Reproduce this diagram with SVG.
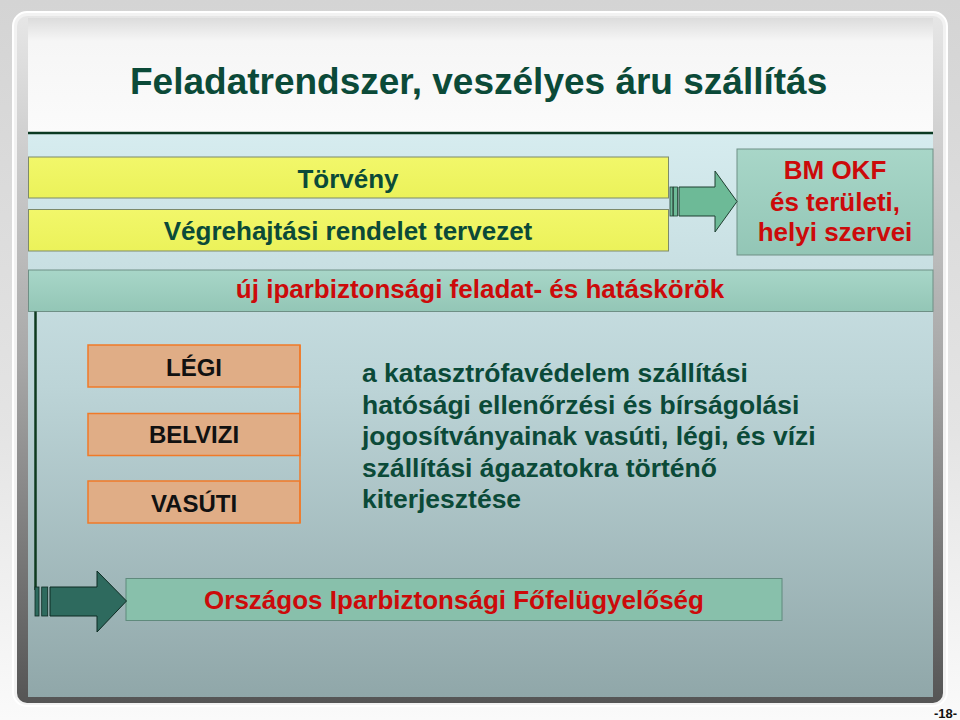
<svg xmlns="http://www.w3.org/2000/svg" width="960" height="720" viewBox="0 0 960 720">
<defs>
<linearGradient id="bgG" x1="0" y1="0" x2="0" y2="1"><stop offset="0" stop-color="#d4d4d4"/><stop offset="0.6" stop-color="#e4e4e4"/><stop offset="1" stop-color="#fafafa"/></linearGradient>
<linearGradient id="bevelG" x1="0" y1="0" x2="0" y2="1"><stop offset="0" stop-color="#e6e6e6"/><stop offset="0.5" stop-color="#a8a8a8"/><stop offset="1" stop-color="#555555"/></linearGradient>
<linearGradient id="titleG" x1="0" y1="0" x2="0" y2="1"><stop offset="0" stop-color="#dcdcdc"/><stop offset="0.2" stop-color="#f6f6f6"/><stop offset="1" stop-color="#fbfbfb"/></linearGradient>
<linearGradient id="panelG" x1="0" y1="0" x2="0" y2="1"><stop offset="0" stop-color="#d6ecef"/><stop offset="0.45" stop-color="#bcd4d7"/><stop offset="1" stop-color="#90a7a9"/></linearGradient>
<linearGradient id="barG" x1="0" y1="0" x2="0" y2="1"><stop offset="0" stop-color="#a8d6c8"/><stop offset="1" stop-color="#93c6b6"/></linearGradient>
<linearGradient id="yelG" x1="0" y1="0" x2="0" y2="1"><stop offset="0" stop-color="#f2f76a"/><stop offset="1" stop-color="#ebf25a"/></linearGradient>
</defs>
<style>
.t{font-family:"Liberation Sans",Arial,sans-serif;font-weight:bold}
.green{fill:#0b4a38}
.red{fill:#cc0a0a}
.blk{fill:#111111}
.yel{fill:url(#yelG);stroke:#7d8a6a;stroke-width:1}
.teal{fill:url(#barG);stroke:#6e8f85;stroke-width:1}
.org{fill:#e0ad86;stroke:#f07a28;stroke-width:1.5}
</style>
<rect x="0" y="0" width="960" height="720" fill="url(#bgG)"/>
<rect x="13" y="12" width="934" height="694" rx="14" fill="#f2f2f2" stroke="#ffffff" stroke-width="2"/>
<rect x="17" y="16" width="926" height="687" rx="10" fill="url(#bevelG)"/>
<rect x="28" y="18" width="905" height="116" fill="url(#titleG)"/>
<rect x="28" y="134" width="905" height="563" fill="url(#panelG)"/>
<line x1="28" y1="133" x2="933" y2="133" stroke="#0b3a22" stroke-width="2.5"/>

<g id="title"><text class="t green" x="130" y="94" font-size="37">Feladatrendszer, veszélyes áru szállítás</text></g>

<g id="torveny"><rect class="yel" x="28.5" y="157" width="640" height="41"/><text class="t green" x="348" y="188" font-size="26" text-anchor="middle">Törvény</text></g>
<g id="vegrehajtasi"><rect class="yel" x="28.5" y="209.5" width="640" height="41.5"/><text class="t green" x="348" y="240" font-size="26" text-anchor="middle">Végrehajtási rendelet tervezet</text></g>

<g id="bmokf"><rect class="teal" x="737" y="149" width="196" height="106"/>
<text class="t red" font-size="26" text-anchor="middle"><tspan x="835" y="179">BM OKF</tspan><tspan x="835" y="210.5">és területi,</tspan><tspan x="835" y="241">helyi szervei</tspan></text></g>

<g id="feladat"><rect class="teal" x="28.5" y="270" width="904.5" height="41.5"/><text class="t red" x="480" y="298" font-size="26" text-anchor="middle">új iparbiztonsági feladat- és hatáskörök</text></g>

<g id="legi"><rect class="org" x="88" y="345" width="212" height="42"/><text class="t blk" x="194" y="376" font-size="24" text-anchor="middle">LÉGI</text></g>
<g id="belvizi"><rect class="org" x="88" y="413.5" width="212" height="42"/><text class="t blk" x="194" y="443" font-size="24" text-anchor="middle">BELVIZI</text></g>
<g id="vasuti"><rect class="org" x="88" y="481" width="212" height="42"/><text class="t blk" x="194" y="512" font-size="24" text-anchor="middle">VASÚTI</text></g>

<g id="leiras"><text class="t green" font-size="26.5"><tspan x="362" y="382">a katasztrófavédelem szállítási</tspan><tspan x="362" y="413.5">hatósági ellenőrzési és bírságolási</tspan><tspan x="362" y="445">jogosítványainak vasúti, légi, és vízi</tspan><tspan x="362" y="476.5">szállítási ágazatokra történő</tspan><tspan x="362" y="508">kiterjesztése</tspan></text></g>

<g id="oif"><rect x="126" y="578.5" width="656" height="42" fill="#88c0ab" stroke="#5f8a7c" stroke-width="1"/><text class="t red" x="454" y="609" font-size="26" text-anchor="middle">Országos Iparbiztonsági Főfelügyelőség</text></g>

<g id="connectors">
<line x1="300" y1="345" x2="300" y2="523" stroke="#f07a28" stroke-width="1.5"/>
<line x1="35.5" y1="311.5" x2="35.5" y2="590" stroke="#0e3a1f" stroke-width="2.5"/>
<rect x="670" y="187" width="2.8" height="29" fill="#6dba97" stroke="#1f3f30" stroke-width="0.8"/>
<rect x="673.6" y="187" width="4" height="29" fill="#6dba97" stroke="#1f3f30" stroke-width="0.8"/>
<polygon points="679,187 715,187 715,171 737,201.5 715,232 715,216 679,216" fill="#6dba97" stroke="#1f3f30" stroke-width="1"/>
<rect x="35" y="587" width="4" height="29" fill="#2e6a5e" stroke="#0d2a22" stroke-width="0.8"/>
<rect x="41.7" y="587" width="6" height="29" fill="#2e6a5e" stroke="#0d2a22" stroke-width="0.8"/>
<polygon points="50,587 97,587 97,571 126.5,601 97,632 97,616 50,616" fill="#2e6a5e" stroke="#0d2a22" stroke-width="1"/>
</g>

<g id="pagenum"><text class="t blk" x="957" y="718" font-size="13" text-anchor="end">-18-</text></g>
</svg>
